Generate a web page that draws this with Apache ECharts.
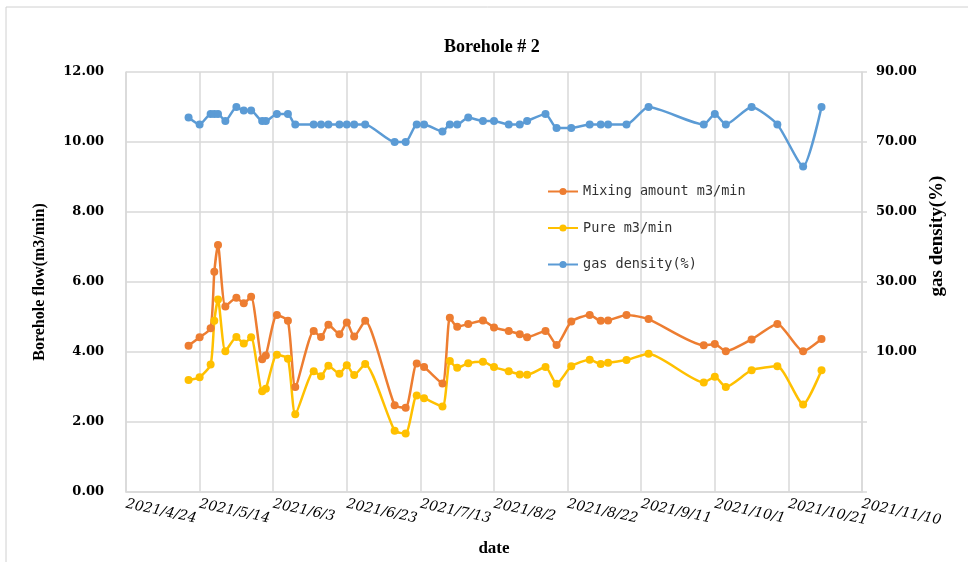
<!DOCTYPE html>
<html>
<head>
<meta charset="utf-8">
<script src="https://cdn.jsdelivr.net/npm/echarts@6/dist/echarts.min.js"></script>
<style>
  html, body { margin: 0; padding: 0; background: #fff; }
  #main { width: 968px; height: 562px; }
</style>
</head>
<body>
<div id="main"></div>
<script>
// sampling dates (2021) and readings
var dates = ['5/11','5/14','5/17','5/18','5/19','5/21','5/24','5/26','5/28','5/31',
             '6/1','6/4','6/7','6/9','6/14','6/16','6/18','6/21','6/23','6/25','6/28',
             '7/6','7/9','7/12','7/14','7/19','7/21','7/23','7/26','7/30',
             '8/2','8/6','8/9','8/11','8/16','8/19','8/23','8/28','8/31',
             '9/2','9/7','9/13','9/28','10/1','10/4','10/11','10/18','10/25','10/30'];
var mixing = [4.18,4.42,4.68,6.29,7.06,5.30,5.55,5.39,5.58,3.79,
              3.90,5.06,4.89,3.00,4.60,4.43,4.78,4.51,4.84,4.44,4.89,
              2.48,2.41,3.67,3.57,3.10,4.98,4.72,4.80,4.90,
              4.70,4.60,4.51,4.42,4.60,4.20,4.87,5.06,4.89,
              4.90,5.06,4.94,4.19,4.23,4.02,4.36,4.80,4.02,4.37];
var pure = [3.20,3.28,3.64,4.89,5.50,4.02,4.43,4.24,4.42,2.88,
            2.95,3.92,3.81,2.22,3.45,3.31,3.61,3.38,3.62,3.34,3.66,
            1.75,1.67,2.76,2.68,2.44,3.74,3.55,3.68,3.72,
            3.57,3.45,3.36,3.35,3.57,3.09,3.59,3.78,3.66,
            3.69,3.77,3.95,3.13,3.29,3.00,3.48,3.59,2.50,3.48];
var density = [77,75,78,78,78,76,80,79,79,76,
               76,78,78,75,75,75,75,75,75,75,75,
               70,70,75,75,73,75,75,77,76,
               76,75,75,76,78,74,74,75,75,
               75,75,80,75,78,75,80,75,63,80];
var seriesNames = ['Mixing amount m3/min', 'Pure m3/min', 'gas density(%)'];
var colors = ['#ED7D31', '#FFC000', '#5B9BD5'];

// x axis runs in days counted from 2021/4/24, one tick every 20 days
var DAY = 86400000;
var origin = Date.UTC(2021, 3, 24);
function dayOf(s) {
    var p = s.split('/');
    return (Date.UTC(2021, +p[0] - 1, +p[1]) - origin) / DAY;
}
function dateLabel(v) {
    var d = new Date(origin + v * DAY);
    return d.getUTCFullYear() + '/' + (d.getUTCMonth() + 1) + '/' + d.getUTCDate();
}
function pairs(vals) {
    return vals.map(function (v, i) { return [dayOf(dates[i]), v]; });
}

var chart = echarts.init(document.getElementById('main'));
var serif = 'DejaVu Serif';
var times = 'Liberation Serif';
var gridColor = '#d9d9d9';

var lineSeries = [mixing, pure, density].map(function (vals, i) {
    return {
        name: seriesNames[i],
        type: 'line',
        yAxisIndex: i === 2 ? 1 : 0,
        data: pairs(vals),
        smooth: 0.2,
        symbol: 'circle',
        symbolSize: 8,
        lineStyle: { width: 2.5, color: colors[i] },
        itemStyle: { color: colors[i] }
    };
});

var option = {
    animation: false,
    backgroundColor: '#fff',
    color: colors,
    title: {
        text: 'Borehole # 2',
        left: 439,
        top: 33,
        textStyle: { fontFamily: times, fontWeight: 'bold', fontSize: 18, color: '#000' }
    },
    graphic: [{
        type: 'rect',
        shape: { x: 6, y: 7, width: 1000, height: 600 },
        style: { fill: 'none', stroke: '#d0d0d0', lineWidth: 1 },
        silent: true
    }],
    legend: {
        orient: 'vertical',
        left: 542,
        top: 179,
        itemWidth: 30,
        itemHeight: 9,
        itemGap: 21.5,
        textStyle: { fontFamily: 'DejaVu Sans Mono', fontSize: 13.5, color: '#333', lineHeight: 15 },
        data: seriesNames
    },
    grid: { left: 126, right: 106, top: 72, bottom: 67 },
    xAxis: {
        type: 'value',
        min: 0,
        max: 200,
        interval: 20,
        name: 'date',
        nameLocation: 'middle',
        nameGap: 48,
        nameTextStyle: { fontFamily: times, fontWeight: 'bold', fontSize: 17, color: '#000' },
        axisLine: { show: true, lineStyle: { color: gridColor, width: 1.5 } },
        axisTick: { show: false },
        splitLine: { show: true, lineStyle: { color: gridColor, width: 1.5 } },
        axisLabel: {
            rotate: -12,
            margin: 12,
            showMinLabel: true,
            showMaxLabel: true,
            hideOverlap: false,
            fontFamily: serif,
            fontStyle: 'italic',
            fontSize: 14,
            color: '#000',
            formatter: dateLabel
        }
    },
    yAxis: [{
        type: 'value',
        min: 0,
        max: 12,
        interval: 2,
        name: 'Borehole flow(m3/min)',
        nameLocation: 'middle',
        nameGap: 78,
        nameRotate: 90,
        nameTextStyle: { fontFamily: times, fontWeight: 'bold', fontSize: 16, color: '#000' },
        axisLine: { show: true, lineStyle: { color: gridColor, width: 1.5 } },
        axisTick: { show: false },
        splitLine: { show: true, lineStyle: { color: gridColor, width: 1.5 } },
        axisLabel: {
            margin: 22,
            fontFamily: serif,
            fontWeight: 'bold',
            fontSize: 13,
            color: '#000',
            formatter: function (v) { return v.toFixed(2); }
        }
    }, {
        type: 'value',
        min: -30,
        max: 90,
        alignTicks: true,
        name: 'gas density(%)',
        nameLocation: 'middle',
        nameGap: 55,
        nameRotate: 90,
        nameTextStyle: { fontFamily: times, fontWeight: 'bold', fontSize: 19, color: '#000', padding: [0, 0, 0, 92] },
        axisLine: { show: true, lineStyle: { color: gridColor, width: 1.5 } },
        axisTick: { show: true, length: 5, lineStyle: { color: gridColor, width: 1.5 } },
        splitLine: { show: false },
        axisLabel: {
            margin: 14,
            fontFamily: serif,
            fontWeight: 'bold',
            fontSize: 13,
            color: '#000',
            formatter: function (v) { return v > 0 ? v.toFixed(2) : ''; }
        }
    }],
    series: lineSeries
};

chart.setOption(option);
</script>
</body>
</html>
